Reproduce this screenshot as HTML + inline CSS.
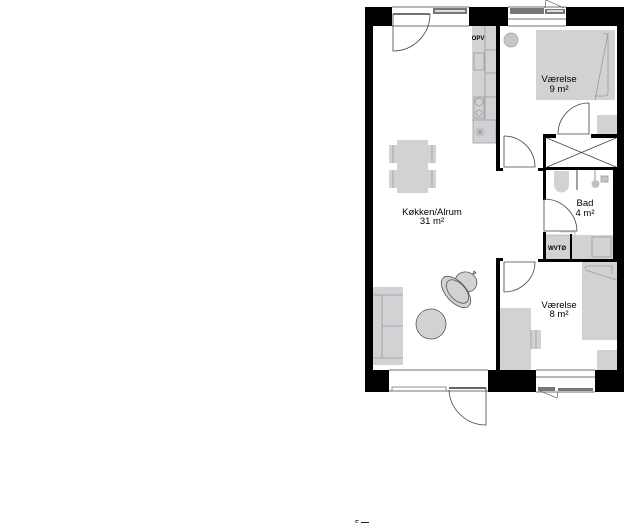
<!DOCTYPE html>
<html><head><meta charset="utf-8"><style>html,body{margin:0;padding:0;background:#fff}svg{display:block}text{font-family:"Liberation Sans",sans-serif;fill:#000}</style></head><body>
<svg width="624" height="523" viewBox="0 0 624 523" xmlns="http://www.w3.org/2000/svg">
<!-- furniture -->
<g fill="#d1d2d4" stroke="none">
<rect x="472" y="26" width="24" height="94"/>
<rect x="473" y="120" width="23" height="23"/>
<rect x="536" y="30" width="79" height="70"/>
<rect x="597" y="115" width="20" height="19"/>
<rect x="582" y="262" width="35" height="78"/>
<rect x="500" y="308" width="31" height="62"/>
<rect x="531" y="330" width="10" height="19"/>
<rect x="597" y="350" width="20" height="20"/>
<rect x="373" y="287" width="30" height="78"/>
<rect x="397" y="140" width="31" height="53"/>
<rect x="389" y="145" width="8" height="18"/>
<rect x="389" y="170" width="8" height="18"/>
<rect x="428" y="145" width="8" height="18"/>
<rect x="428" y="170" width="8" height="18"/>
<rect x="545" y="235" width="25" height="24"/>
<rect x="572" y="235" width="41" height="24"/>
<path d="M554 171h15v14a7.500 7.500 0 0 1-15 0z"/>
</g>
<g fill="none" stroke="#9a9b9d" stroke-width="0.8">
<path d="M485 26V120M485 50H496M485 73H496M485 97H496M472 120H496V143H473V120"/>
<rect x="474" y="53" width="10" height="17"/>
<rect x="474" y="97" width="10" height="21"/>
<circle cx="479" cy="102" r="4"/><circle cx="479" cy="113" r="3"/>
<path d="M480 127v10M475 132h10M476.500 128.500l7 7M483.500 128.500l-7 7"/>
<path d="M603 34h5v58q0 4-4 4h-9M608 33L595 100"/>
<path d="M585 269q0-3 3-3h24v8M585 270l32 10"/>
<path d="M531 330v19M536 330v19"/>
<path d="M382 295h21M382 358h21M382 295v63M382 326h21M373 295h9M373 358h9"/>
<path d="M393 145v18M393 170v18M432 145v18M432 170v18"/>
<rect x="592" y="237" width="19" height="20"/>
<rect x="601" y="176" width="7" height="6" fill="#c4c5c7"/>
</g>
<circle cx="511" cy="40" r="7" fill="#c6c7c9" stroke="#a0a1a3" stroke-width=".7"/>
<circle cx="431" cy="324" r="15" fill="#d1d2d4" stroke="#555" stroke-width=".8"/>
<!-- lounge chair -->
<g stroke="#555" stroke-width=".8" fill="#d1d2d4">
<path d="M473 274l1-3 2 2z"/>
<ellipse cx="466" cy="282" rx="11" ry="10" transform="rotate(20 466 282)"/>
<ellipse cx="456" cy="292" rx="10" ry="19" transform="rotate(-42 456 292)"/>
<ellipse cx="457.500" cy="291.500" rx="8" ry="14" transform="rotate(-42 457.500 291.500)"/>
</g>
<!-- black walls -->
<g fill="#000">
<rect x="365" y="7" width="27" height="19"/>
<rect x="469" y="7" width="39" height="19"/>
<rect x="566" y="7" width="58" height="19"/>
<rect x="365" y="26" width="8" height="345"/>
<rect x="617" y="26" width="7" height="345"/>
<rect x="365" y="370" width="24" height="22"/>
<rect x="488" y="370" width="48" height="22"/>
<rect x="595" y="370" width="29" height="22"/>
<rect x="496" y="26" width="4" height="145"/>
<rect x="496" y="168" width="7" height="3"/>
<rect x="496" y="258" width="4" height="112"/>
<rect x="496" y="258" width="7" height="3"/>
<rect x="543" y="134" width="13" height="4"/>
<rect x="591" y="134" width="26" height="4"/>
<rect x="543" y="134" width="3" height="66"/>
<rect x="538" y="168" width="8" height="3"/>
<rect x="543" y="167" width="74" height="3"/>
<rect x="613" y="170" width="4" height="92"/>
<rect x="543" y="232" width="3" height="30"/>
<rect x="538" y="259" width="79" height="3"/>
<rect x="570" y="234" width="2" height="26"/>
</g>
<!-- thin lines -->
<g fill="none" stroke="#444" stroke-width=".8">
<path d="M392 7H469M392 26H469M508 7H566M508 19H566M508 26H566"/>
<path d="M389 370H488M389 391H488M536 370H595M536 377H595M536 392H595"/>
<path d="M547 138L616 167M547 167L616 138"/>
<path d="M393 14V51A37 37 0 0 0 430 14"/>
<path d="M589 103V134H558A31 31 0 0 1 589 103"/>
<path d="M504 136V167H535A31 31 0 0 0 504 136"/>
<path d="M544 199V231H577A33 33 0 0 0 544 199"/>
<path d="M504 262V292A31 30 0 0 0 535 262Z"/>
<path d="M486 388V425A37 37 0 0 1 449 390"/>
<path d="M545 8L546 0L564 8" stroke-width=".6"/>
<path d="M540 391L557 398L558 392" stroke-width=".6"/>
<rect x="392" y="387" width="54" height="4" stroke="#777"/>
<path d="M561 232h14v3M546 235h24" stroke="#999" stroke-width=".6"/>
<path d="M577 170V190" stroke-width="1"/>
<path d="M595 170V180" stroke="#777"/>
</g>
<circle cx="595.500" cy="184" r="4" fill="#bfc0c2"/>
<g fill="#777">
<rect x="433" y="8" width="34" height="6"/>
<rect x="510" y="8" width="34" height="6"/>
<rect x="545" y="9" width="20" height="5"/>
<rect x="538" y="387" width="17" height="4"/>
<rect x="558" y="388" width="35" height="3"/>
</g>
<rect x="435" y="10" width="30" height="2" fill="#ddd"/>
<rect x="547" y="10" width="16" height="2" fill="#ddd"/>
<path d="M393 14H430" stroke="#444" stroke-width="1.500"/>
<path d="M449 388H486" stroke="#333" stroke-width="1.500"/>
<!-- labels -->
<g font-size="9.500" text-anchor="middle">
<text x="432" y="215">Køkken/Alrum</text>
<text x="432" y="224">31 m²</text>
<text x="559" y="82">Værelse</text>
<text x="559" y="92">9 m²</text>
<text x="585" y="206">Bad</text>
<text x="585" y="216">4 m²</text>
<text x="559" y="308">Værelse</text>
<text x="559" y="317">8 m²</text>
</g>
<text x="478" y="40" font-size="6" font-weight="bold" text-anchor="middle">OPV</text>
<text x="557" y="250" font-size="6" font-weight="bold" text-anchor="middle">WVTØ</text>
<text x="355" y="526" font-size="8">5</text>
<rect x="361" y="522" width="8" height="1" fill="#222"/>
</svg>
</body></html>
